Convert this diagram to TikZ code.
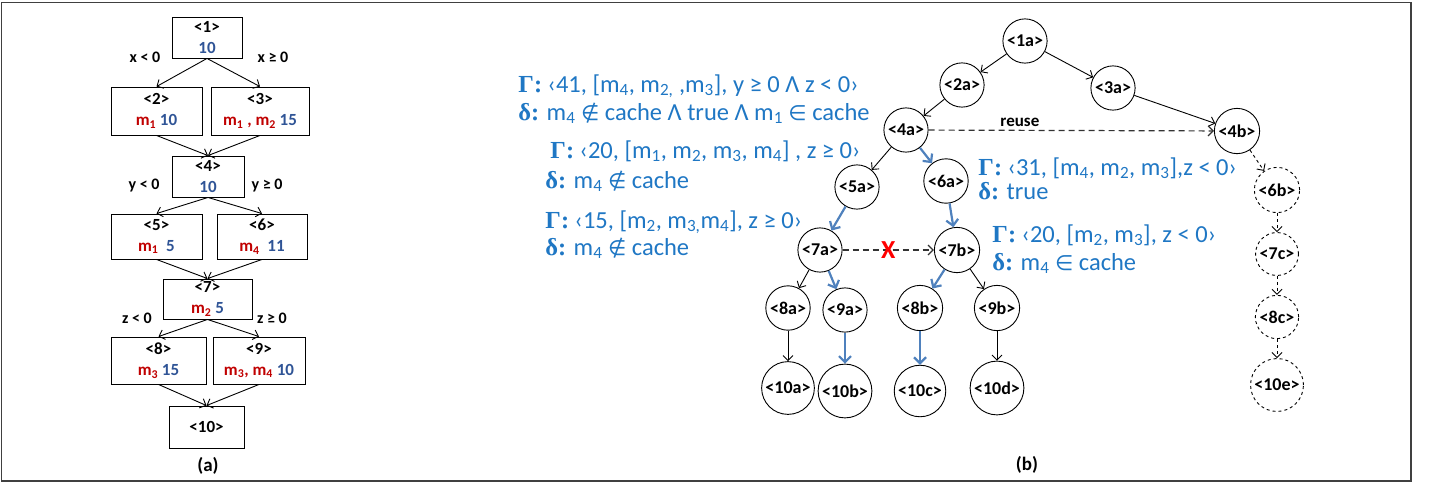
\documentclass[tikz,border=0pt]{standalone}
\usepackage{fontspec}
\setmainfont{Carlito}
\newfontfamily\serifgr{Liberation Serif}
\newfontfamily\symfont{DejaVu Sans}
\usepackage{tikz}
\usetikzlibrary{positioning, arrows.meta}

\definecolor{numblue}{RGB}{47,84,150}
\definecolor{mred}{RGB}{192,0,0}
\definecolor{txtblue}{RGB}{31,119,196}
\definecolor{arrblue}{RGB}{79,129,189}

\newcommand{\mv}[1]{m\textsubscript{#1}}
\newcommand{\rv}[1]{\textcolor{mred}{\mv{#1}}}
\newcommand{\nv}[1]{\textcolor{numblue}{#1}}
\newcommand{\gam}{{\serifgr\bfseries Γ:}}
\newcommand{\dlt}{{\serifgr\bfseries δ:}}
\newcommand{\nelem}{{\symfont\fontsize{21}{25}\selectfont ∉}}
\newcommand{\elem}{{\symfont\fontsize{21}{25}\selectfont ∈}}

\begin{document}
\begin{tikzpicture}[x=1pt, y=-1pt, line width=0.9pt,
    >={Straight Barb[length=5pt, width=10pt]},
    blk/.style={draw, rectangle, align=center, inner sep=0pt,
      font=\fontsize{17}{21}\selectfont\bfseries},
    cond/.style={font=\fontsize{16}{18}\selectfont\bfseries},
    st/.style={draw, circle, inner sep=2.5pt,
      font=\fontsize{18}{20}\selectfont\bfseries},
    ghost/.style={st, dashed},
    ann/.style={anchor=base west, inner sep=0pt, text=txtblue,
      font=\fontsize{24.5}{27}\selectfont},
    hot/.style={-{Straight Barb[length=6pt, width=12pt]}, arrblue, line width=2.2pt},
    lbl/.style={font=\fontsize{19}{21}\selectfont\bfseries}]
    \useasboundingbox (0,0) rectangle (1429,485);
    \draw[black!75, line width=1.6pt] (1.5,2.5) rectangle (1411,481);

    \node[blk, minimum width=70pt, minimum height=41pt] (b1) at (207,37.5) {<1>\\\nv{10}};
    \node[blk, minimum width=91pt, minimum height=48pt] (b2) at (156.5,111) {<2>\\\rv{1} \nv{10}};
    \node[blk, minimum width=98pt, minimum height=48pt] (b3) at (260,111) {<3>\\\textcolor{mred}{\mv{1} , \mv{2}} \nv{15}};
    \node[blk, minimum width=72pt, minimum height=41pt] (b4) at (208,176.5) {<4>\\\nv{10}};
    \node[blk, minimum width=91pt, minimum height=45pt] (b5) at (156.5,236.5) {<5>\\\rv{1}\ \ \nv{5}};
    \node[blk, minimum width=90pt, minimum height=45pt] (b6) at (262,236.5) {<6>\\\rv{4}\ \ \nv{11}};
    \node[blk, minimum width=89pt, minimum height=40pt] (b7) at (207.5,299) {<7>\\\rv{2} \nv{5}};
    \node[blk, minimum width=95pt, minimum height=47pt] (b8) at (158.5,360.5) {<8>\\\rv{3} \nv{15}};
    \node[blk, minimum width=92pt, minimum height=47pt] (b9) at (259,360.5) {<9>\\\textcolor{mred}{\mv{3}, \mv{4}} \nv{10}};
    \node[blk, minimum width=75pt, minimum height=42pt] (b10) at (206.5,427) {<10>};
    \node[cond] (cx1) at (145,57) {x < 0};
    \node[cond] (cx2) at (273,57) {x ≥ 0};
    \node[cond] (cy1) at (144,186) {y < 0};
    \node[cond] (cy2) at (267,186) {y ≥ 0};
    \node[cond] (cz1) at (137,318) {z < 0};
    \node[cond] (cz2) at (272,318) {z ≥ 0};
    \node[lbl] (capa) at (208,466) {(a)};
    \draw[->] (b1.south) -- (b2.north);
    \draw[->] (b1.south) -- (b3.north);
    \draw[->] (b2.south) -- (b4.north);
    \draw[->] (b3.south) -- (b4.north);
    \draw[->] (b4.south) -- (b5.north);
    \draw[->] (b4.south) -- (b6.north);
    \draw[->] (b5.south) -- (b7.north);
    \draw[->] (b6.south) -- (b7.north);
    \draw[->] (b7.south) -- (b8.north);
    \draw[->] (b7.south) -- (b9.north);
    \draw[->] (b8.south) -- (b10.north);
    \draw[->] (b9.south) -- (b10.north);

    \node[st] (c1a) at (1025,41) {<1a>};
    \node[st] (c2a) at (962,85) {<2a>};
    \node[st] (c3a) at (1113,88) {<3a>};
    \node[st] (c4a) at (906,130) {<4a>};
    \node[st] (c4b) at (1237,131) {<4b>};
    \node[st] (c5a) at (857,187) {<5a>};
    \node[st] (c6a) at (946,181) {<6a>};
    \node[st] (c7a) at (820,250) {<7a>};
    \node[st] (c7b) at (957,250) {<7b>};
    \node[st] (c8a) at (788,308) {<8a>};
    \node[st] (c9a) at (845,310) {<9a>};
    \node[st] (c8b) at (920,308) {<8b>};
    \node[st] (c9b) at (997,308) {<9b>};
    \node[st, below of=c8a, node distance=80pt] (c10a) {<10a>};
    \node[st, below of=c9a, node distance=81pt] (c10b) {<10b>};
    \node[st, below of=c8b, node distance=83pt] (c10c) {<10c>};
    \node[st, below of=c9b, node distance=80pt] (c10d) {<10d>};
    \node[ghost] (c6b) at (1277,190) {<6b>};
    \node[ghost, below of=c6b, node distance=64pt] (c7c) {<7c>};
    \node[ghost, below of=c7c, node distance=63pt] (c8c) {<8c>};
    \node[ghost, below of=c8c, node distance=68pt] (c10e) {<10e>};
    \node[lbl] (capb) at (1027,465) {(b)};

    \draw[->] (c1a) -- (c2a);
    \draw[->] (c1a) -- (c3a);
    \draw[->] (c2a) -- (c4a);
    \draw[->] (c3a) -- (c4b);
    \draw[->] (c4a) -- (c5a);
    \draw[->] (c7a) -- (c8a);
    \draw[->] (c7b) -- (c9b);
    \draw[->] (c8a) -- (c10a);
    \draw[->] (c9b) -- (c10d);
    \draw[hot] (c4a) -- (c6a);
    \draw[hot] (c5a) -- (c7a);
    \draw[hot] (c6a) -- (c7b);
    \draw[hot] (c7a) -- (c9a);
    \draw[hot] (c7b) -- (c8b);
    \draw[hot] (c9a) -- (c10b);
    \draw[hot] (c8b) -- (c10c);
    \draw[->, black!80, line width=1.2pt, dash pattern=on 6pt off 4pt] (c4a) -- (c4b)
      node[pos=0.32, above, font=\fontsize{17}{19}\selectfont\bfseries, text=black] {reuse};
    \draw[->, black!80, line width=1.2pt, dash pattern=on 6pt off 4pt] (c7a) -- (c7b)
      node[midway, text=red, font=\fontsize{26}{28}\selectfont\bfseries, inner sep=0pt] {X};
    \draw[->, dashed] (c4b) -- (c6b);
    \draw[->, dashed] (c6b) -- (c7c);
    \draw[->, dashed] (c7c) -- (c8c);
    \draw[->, dashed] (c8c) -- (c10e);

    \node[ann] (g1) at (518,92) {\gam{} ‹41, [\mv{4}, \mv{2,} ,\mv{3}], y ≥ 0 Λ z < 0›};
    \node[ann] (d1) at (518,120) {\dlt{} \mv{4} \nelem{} cache Λ true Λ \mv{1} \elem{} cache};
    \node[ann] (g2) at (550,158) {\gam{} ‹20, [\mv{1}, \mv{2}, \mv{3}, \mv{4}] , z ≥ 0›};
    \node[ann] (d2) at (545,188) {\dlt{} \mv{4} \nelem{} cache};
    \node[ann] (g3) at (545,228) {\gam{} ‹15, [\mv{2}, \mv{3,}\mv{4}], z ≥ 0›};
    \node[ann] (d3) at (545,255) {\dlt{} \mv{4} \nelem{} cache};
    \node[ann] (g4) at (978,175) {\gam{} ‹31, [\mv{4}, \mv{2}, \mv{3}],z < 0›};
    \node[ann] (d4) at (978,199) {\dlt{} true};
    \node[ann] (g5) at (992,242) {\gam{} ‹20, [\mv{2}, \mv{3}], z < 0›};
    \node[ann] (d5) at (992,270) {\dlt{} \mv{4} \elem{} cache};
\end{tikzpicture}
\end{document}
